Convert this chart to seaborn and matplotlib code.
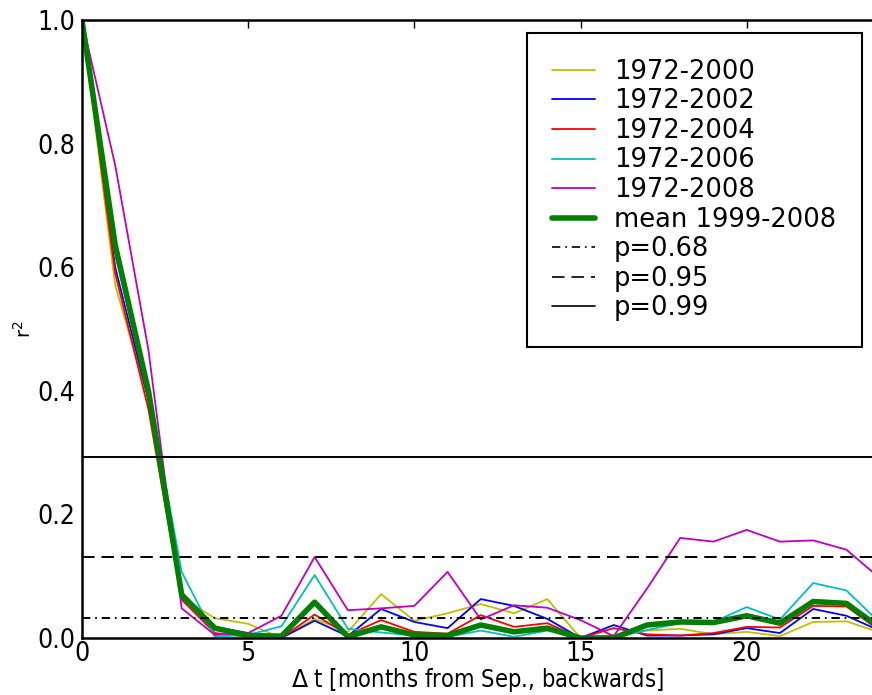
import matplotlib
matplotlib.use("Agg")
import matplotlib.pyplot as plt
from matplotlib.lines import Line2D
import seaborn as sns
import pandas as pd

sns.set_style("white")
plt.rcParams["font.family"] = ["DejaVu Sans"]
plt.rcParams["lines.scale_dashes"] = False
plt.rcParams["text.color"] = "black"
plt.rcParams["axes.labelcolor"] = "black"
plt.rcParams["xtick.color"] = "black"
plt.rcParams["ytick.color"] = "black"

# lag in months (x) and r^2 per period
lag = list(range(25))

r2_1972_2000 = [1.0, 0.571, 0.385, 0.065, 0.032, 0.023, 0.0, 0.031, 0.010, 0.071, 0.028, 0.040, 0.055,
                0.040, 0.063, 0.0, 0.005, 0.012, 0.015, 0.006, 0.010, 0.003, 0.026, 0.027, 0.009]
r2_1972_2002 = [1.0, 0.600, 0.385, 0.065, 0.018, 0.008, 0.0, 0.028, 0.003, 0.047, 0.026, 0.016, 0.063,
                0.052, 0.031, 0.0, 0.021, 0.004, 0.004, 0.006, 0.016, 0.008, 0.047, 0.036, 0.012]
r2_1972_2004 = [1.0, 0.590, 0.370, 0.062, 0.008, 0.002, 0.0, 0.038, 0.005, 0.029, 0.010, 0.007, 0.037,
                0.018, 0.024, 0.0, 0.016, 0.006, 0.004, 0.008, 0.018, 0.017, 0.052, 0.051, 0.012]
r2_1972_2006 = [1.0, 0.620, 0.400, 0.107, 0.002, 0.005, 0.019, 0.102, 0.015, 0.009, 0.004, 0.002, 0.012,
                0.002, 0.012, 0.0, 0.0, 0.013, 0.024, 0.026, 0.050, 0.030, 0.089, 0.077, 0.025]
r2_1972_2008 = [1.0, 0.765, 0.466, 0.048, 0.005, 0.008, 0.036, 0.131, 0.045, 0.048, 0.052, 0.107, 0.030,
                0.053, 0.049, 0.029, 0.003, 0.080, 0.162, 0.156, 0.175, 0.156, 0.158, 0.143, 0.097]
r2_mean = [1.0, 0.636, 0.400, 0.070, 0.016, 0.004, 0.003, 0.058, 0.002, 0.018, 0.005, 0.004, 0.021,
           0.010, 0.016, 0.0, 0.0, 0.021, 0.026, 0.025, 0.036, 0.024, 0.059, 0.056, 0.017]

series_names = ["1972-2000", "1972-2002", "1972-2004", "1972-2006", "1972-2008"]
series_colors = ["#bfbf00", "#0000ff", "#ff0000", "#00bfbf", "#bf00bf"]

# significance thresholds
p_labels = ["p=0.68", "p=0.95", "p=0.99"]
p_values = [0.032, 0.131, 0.293]

df = pd.DataFrame({
    "lag": lag * 5,
    "r2": r2_1972_2000 + r2_1972_2002 + r2_1972_2004 + r2_1972_2006 + r2_1972_2008,
    "period": [n for n in series_names for _ in lag],
})
mean_df = pd.DataFrame({"lag": lag, "r2": r2_mean})

fig = plt.figure(figsize=(8.72, 6.95), dpi=100)
ax = fig.add_axes([0.094, 0.082, 0.906, 0.889])

sns.lineplot(data=df, x="lag", y="r2", hue="period", hue_order=series_names,
             palette=dict(zip(series_names, series_colors)), linewidth=1.3, ax=ax, legend=False)
sns.lineplot(data=mean_df, x="lag", y="r2", color="#008000", linewidth=4, ax=ax, legend=False)

p_styles = [(0, (6, 3.5, 1.2, 3.5)), (0, (9, 5)), "-"]
for val, ls in zip(p_values, p_styles):
    ax.axhline(val, color="black", linewidth=1.4, linestyle=ls)

ax.set_xlim(0, 23.77)
ax.set_ylim(0, 1.0)
ax.set_xticks([0, 5, 10, 15, 20])
ax.set_yticks([0.0, 0.2, 0.4, 0.6, 0.8, 1.0])
ax.set_yticklabels(["0.0", "0.2", "0.4", "0.6", "0.8", "1.0"])
ax.tick_params(direction="in", length=6, width=1, top=True, right=False, labelsize=19)
ax.tick_params(axis="x", pad=2)
ax.tick_params(axis="y", pad=5)
for lab in ax.get_xticklabels() + ax.get_yticklabels():
    lab.set_fontstretch("condensed")

ax.set_xlabel(r"$\Delta$ t [months from Sep., backwards]", fontsize=17, fontstretch="condensed")
ax.xaxis.set_label_coords(0.5, -0.046)
ax.set_ylabel(r"r$^2$", fontsize=14)
ax.yaxis.set_label_coords(-0.06, 0.5)

for side in ["left", "bottom", "top"]:
    ax.spines[side].set_linewidth(1.8)
    ax.spines[side].set_color("black")
ax.spines["right"].set_visible(False)

handles = [Line2D([], [], color=c, linewidth=1.3) for c in series_colors]
handles.append(Line2D([], [], color="#008000", linewidth=4))
handles += [Line2D([], [], color="black", linewidth=1.2, linestyle=ls) for ls in p_styles]
labels = series_names + ["mean 1999-2008"] + p_labels

leg = ax.legend(handles, labels, loc="upper left", bbox_to_anchor=(0.604, 0.9525),
                bbox_transform=fig.transFigure, fontsize=18.5, frameon=True, fancybox=False,
                edgecolor="black", framealpha=1, borderpad=1.0, labelspacing=0.14,
                handlelength=1.65, handletextpad=0.75, borderaxespad=0)
leg.get_frame().set_linewidth(1.5)

fig.savefig("out.png", dpi=100)
